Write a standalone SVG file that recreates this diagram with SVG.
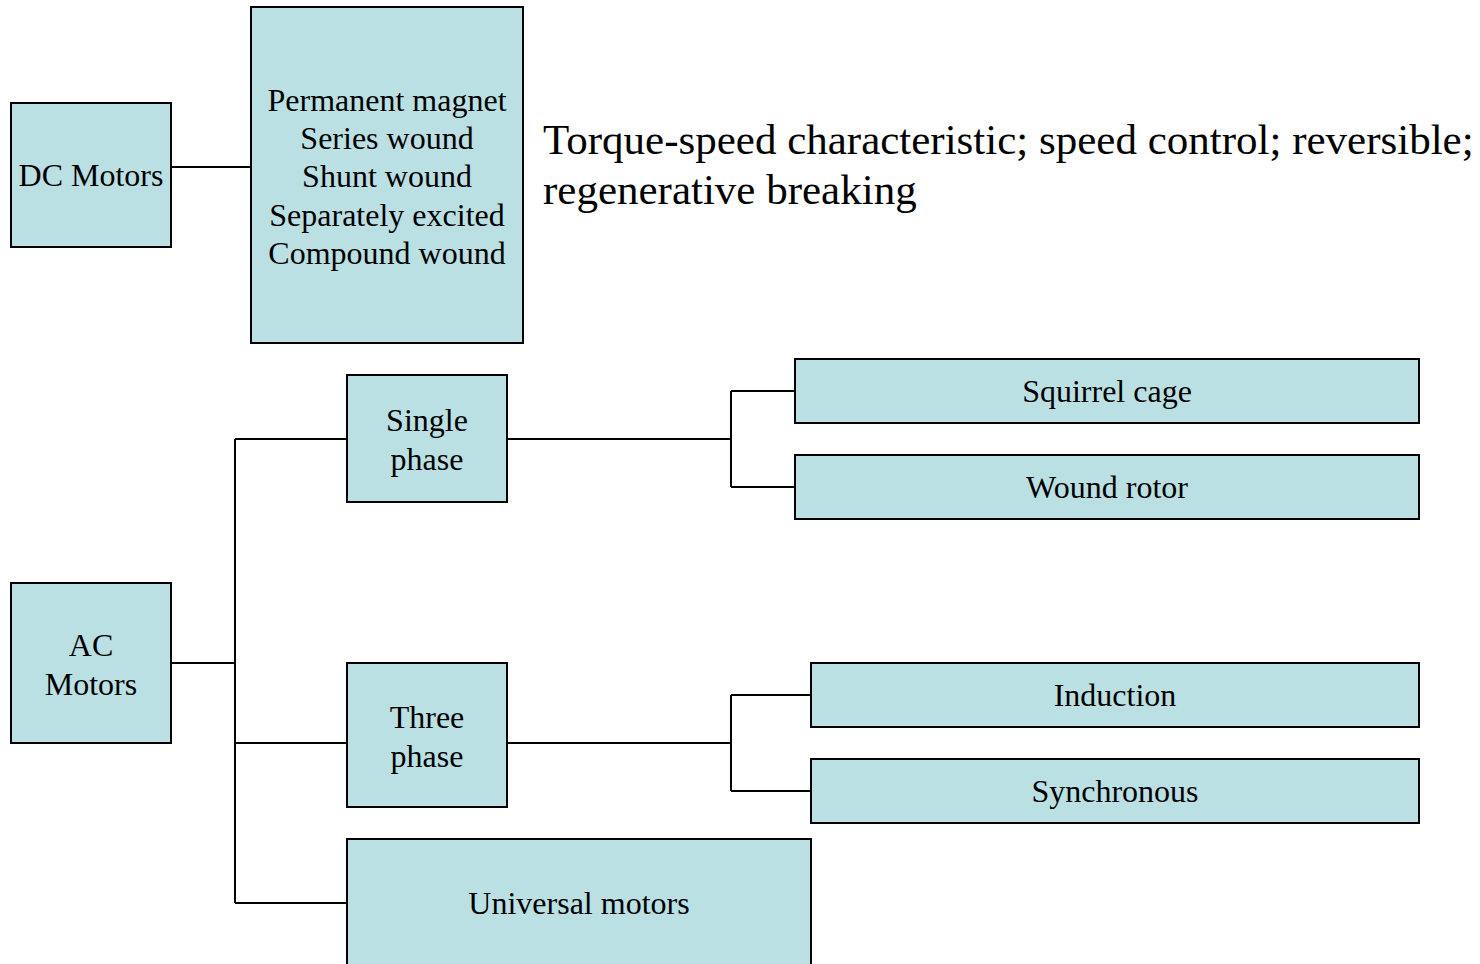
<svg xmlns="http://www.w3.org/2000/svg" width="1480" height="964" viewBox="0 0 1480 964">
<style>
.box{fill:#BBE0E3;stroke:#000;stroke-width:2}
.t{font-family:"Liberation Serif","Times New Roman",serif;font-size:32px;fill:#000;text-anchor:middle}
.big{font-family:"Liberation Serif","Times New Roman",serif;font-size:43px;fill:#000}
.c{fill:none;stroke:#000;stroke-width:2}
</style>
<rect width="1480" height="964" fill="#fff"/>
<g id="connectors">
<path class="c" d="M171 167H251"/>
<path class="c" d="M171 663H235M235 439V903M235 439H347M235 743H347M235 903H347"/>
<path class="c" d="M507 439H731M731 391V487M731 391H795M731 487H795"/>
<path class="c" d="M507 743H731M731 695V791M731 695H811M731 791H811"/>
</g>
<g id="dc-motors"><rect class="box" x="11" y="103" width="160" height="144"/><text class="t" x="91" y="186">DC Motors</text></g>
<g id="dc-types"><rect class="box" x="251" y="7" width="272" height="336"/>
<text class="t" x="387" y="111">Permanent magnet</text>
<text class="t" x="387" y="149">Series wound</text>
<text class="t" x="387" y="187">Shunt wound</text>
<text class="t" x="387" y="226">Separately excited</text>
<text class="t" x="387" y="264">Compound wound</text></g>
<g id="dc-note"><text class="big" x="543" y="154">Torque-speed characteristic; speed control; reversible;</text>
<text class="big" x="543" y="204">regenerative breaking</text></g>
<g id="ac-motors"><rect class="box" x="11" y="583" width="160" height="160"/><text class="t" x="91" y="656">AC</text><text class="t" x="91" y="695">Motors</text></g>
<g id="single-phase"><rect class="box" x="347" y="375" width="160" height="127"/><text class="t" x="427" y="431">Single</text><text class="t" x="427" y="470">phase</text></g>
<g id="three-phase"><rect class="box" x="347" y="663" width="160" height="144"/><text class="t" x="427" y="728">Three</text><text class="t" x="427" y="767">phase</text></g>
<g id="universal"><rect class="box" x="347" y="839" width="464" height="140"/><text class="t" x="579" y="914">Universal motors</text></g>
<g id="squirrel-cage"><rect class="box" x="795" y="359" width="624" height="64"/><text class="t" x="1107" y="402">Squirrel cage</text></g>
<g id="wound-rotor"><rect class="box" x="795" y="455" width="624" height="64"/><text class="t" x="1107" y="498">Wound rotor</text></g>
<g id="induction"><rect class="box" x="811" y="663" width="608" height="64"/><text class="t" x="1115" y="706">Induction</text></g>
<g id="synchronous"><rect class="box" x="811" y="759" width="608" height="64"/><text class="t" x="1115" y="802">Synchronous</text></g>
</svg>
